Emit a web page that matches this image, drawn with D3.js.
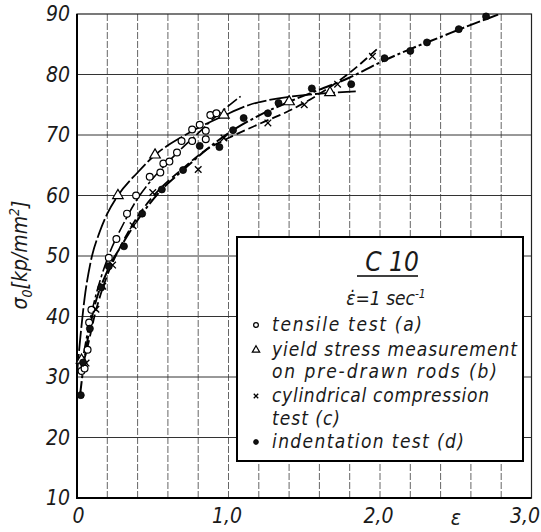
<!DOCTYPE html>
<html>
<head>
<meta charset="utf-8">
<script src="https://cdn.jsdelivr.net/npm/d3@7"></script>
<style>
  body { margin: 0; background: #fff; }
  svg text {
    font-family: "Liberation Sans Narrow", "DejaVu Sans Condensed", "Liberation Sans", sans-serif;
    font-style: italic;
    fill: #1a1a1a;
  }
</style>
</head>
<body>
<div id="chart"></div>
<script>
// Measured points, [strain, flow stress kp/mm2]
const tensileA = [[0.03,31.0],[0.05,31.4],[0.07,34.5],[0.08,39.0],[0.095,41.1],[0.21,49.7],[0.26,52.8],
  [0.33,57.0],[0.39,60.0],[0.48,63.1],[0.55,63.8],[0.57,65.3],[0.61,65.6],[0.66,67.1],[0.69,69.0],
  [0.76,69.0],[0.76,70.9],[0.81,71.7],[0.85,70.7],[0.85,69.3],[0.88,73.3],[0.92,73.6]];
const yieldB = [[0.03,32.8],[0.27,60.0],[0.515,66.7],[0.97,73.3],[1.40,75.5],[1.67,77.0]];
const compressionC = [[0.06,32.3],[0.125,41.2],[0.17,45.0],[0.235,48.5],[0.37,55.0],[0.50,60.5],
  [0.80,64.3],[0.97,69.5],[1.26,72.0],[1.50,75.0],[1.72,78.4],[1.95,83.0]];
const indentationD = [[0.025,27.0],[0.04,32.4],[0.085,38.0],[0.16,44.8],[0.21,48.3],[0.31,51.6],
  [0.43,57.0],[0.56,61.0],[0.70,64.2],[0.81,68.2],[0.94,68.0],[1.03,70.8],[1.10,72.8],[1.26,73.6],
  [1.33,75.3],[1.55,77.7],[1.81,78.4],[2.03,82.7],[2.20,83.9],[2.31,85.3],[2.52,87.5],[2.70,89.6]];

// Fitted curves, points
const fitA = [[0.02,30.5],[0.1,41],[0.2,49.5],[0.3,55],[0.4,59.5],[0.5,62.8],[0.6,65.5],[0.7,68],
  [0.8,70.3],[0.9,72.7],[1.0,74.8],[1.08,76.4]];
const fitB = [[0.0,30.5],[0.02,36],[0.05,43],[0.09,49],[0.15,54],[0.2,57],[0.27,60],[0.4,63.8],
  [0.515,66.7],[0.7,69.8],[0.97,73.2],[1.14,75.0],[1.27,75.8],[1.5,76.6],[1.69,77.0],[1.84,77.2]];
const fitC = [[0.02,30.5],[0.06,34],[0.125,41],[0.2,46.8],[0.3,52.2],[0.4,56.5],[0.5,59.8],[0.7,64.5],
  [0.85,67.5],[1.0,69.5],[1.2,71.8],[1.4,74.0],[1.6,76.8],[1.8,80.3],[1.98,84.2]];
const fitD = [[0.02,27],[0.05,33],[0.1,40],[0.2,47.5],[0.3,52],[0.43,57],[0.56,61],[0.7,64.2],
  [0.85,67.5],[1.0,70.3],[1.2,73.2],[1.4,75.5],[1.6,77.5],[1.8,79.5],[2.0,82],[2.2,84.2],[2.4,86.2],
  [2.6,88.2],[2.78,89.9]];

const xTicks = [0, 1, 2, 3];
const yTicks = [10, 20, 30, 40, 50, 60, 70, 80, 90];
const xGrid = [0.2, 0.4, 0.6, 0.8, 1.0, 1.2, 1.4, 1.6, 1.8, 2.0, 2.2, 2.4, 2.6, 2.8];
const yGrid = [20, 30, 40, 50, 60, 70, 80];

const legendTitle = 'C 10';
const legendRows = [
  {text: 'tensile test (a)', marker: 'circle'},
  {text: 'yield stress measurement', marker: 'triangle'},
  {text: 'on pre-drawn rods (b)', marker: null},
  {text: 'cylindrical compression', marker: 'cross'},
  {text: 'test (c)', marker: null},
  {text: 'indentation test (d)', marker: 'dot'}
];
const legendWidths = [150, 245, 225, 217, 68, 192];

const width = 541, height = 532;

let svg = d3.select('#chart')
  .append('svg')
    .attr('width', width)
    .attr('height', height);

let x = d3.scaleLinear().domain([0, 3]).range([77, 531.5]);
let y = d3.scaleLinear().domain([10, 90]).range([498, 14]);

svg.append('defs').append('clipPath')
  .attr('id', 'plot-clip')
  .append('rect')
    .attr('x', x(0)).attr('y', y(90))
    .attr('width', x(3) - x(0)).attr('height', y(10) - y(90));

// Grid
svg.append('g')
  .selectAll('line')
  .data(xGrid)
  .enter().append('line')
    .attr('x1', d => x(d)).attr('x2', d => x(d))
    .attr('y1', y(10)).attr('y2', y(90))
    .attr('stroke', '#555')
    .attr('stroke-width', 0.9)
    .attr('stroke-dasharray', '7,2');
svg.append('g')
  .selectAll('line')
  .data(yGrid)
  .enter().append('line')
    .attr('x1', x(0)).attr('x2', x(3))
    .attr('y1', d => y(d)).attr('y2', d => y(d))
    .attr('stroke', '#333')
    .attr('stroke-width', 1);

// Frame
svg.append('rect')
  .attr('x', x(0)).attr('y', y(90))
  .attr('width', x(3) - x(0)).attr('height', y(10) - y(90))
  .attr('fill', 'none')
  .attr('stroke', '#222')
  .attr('stroke-width', 1.2);
svg.append('path')
  .attr('d', 'M' + x(0) + ',' + y(90) + 'V' + y(10) + 'H' + x(3))
  .attr('fill', 'none')
  .attr('stroke', '#000')
  .attr('stroke-width', 2);

// Axes (labels only)
let xAxis = svg.append('g')
  .attr('transform', 'translate(0,' + y(10) + ')')
  .call(d3.axisBottom(x)
    .tickValues(xTicks)
    .tickSize(0)
    .tickPadding(10)
    .tickFormat(d => d === 0 ? '0' : d.toFixed(1).replace('.', ',')));
xAxis.select('.domain').remove();
xAxis.selectAll('text')
  .style('font-size', '21px')
  .attr('text-anchor', d => d === 3 ? 'end' : 'middle')
  .attr('dx', d => d === 3 ? '8px' : d === 0 ? '1px' : '-2px');

let yAxis = svg.append('g')
  .attr('transform', 'translate(' + x(0) + ',0)')
  .call(d3.axisLeft(y)
    .tickValues(yTicks)
    .tickSize(0)
    .tickPadding(7));
yAxis.select('.domain').remove();
yAxis.selectAll('text').style('font-size', '21px');

svg.append('text')
  .attr('x', x(2.5))
  .attr('y', 525)
  .attr('text-anchor', 'middle')
  .style('font-size', '21px')
  .text('ε');

// Y title
let yTitle = svg.append('text')
  .attr('transform', 'translate(27,255) rotate(-90)')
  .attr('text-anchor', 'middle')
  .style('font-size', '21px');
yTitle.append('tspan').text('σ');
yTitle.append('tspan').attr('dy', 5).style('font-size', '14px').text('0');
yTitle.append('tspan').attr('dy', -5).text('[kp/mm');
yTitle.append('tspan').attr('dy', -8).style('font-size', '14px').text('2');
yTitle.append('tspan').attr('dy', 8).text(']');

// Fitted curves
let curveLine = d3.line()
  .x(d => x(d[0]))
  .y(d => y(d[1]))
  .curve(d3.curveMonotoneX);

let curves = svg.append('g').attr('clip-path', 'url(#plot-clip)');
[
  {data: fitA, dash: '12,3,3,3', w: 1.6},
  {data: fitB, dash: '20,3', w: 1.8},
  {data: fitC, dash: '9,4', w: 1.8},
  {data: fitD, dash: '14,3,3,3', w: 2}
].forEach(c => {
  curves.append('path')
    .datum(c.data)
    .attr('d', curveLine)
    .attr('fill', 'none')
    .attr('stroke', '#000')
    .attr('stroke-width', c.w)
    .attr('stroke-dasharray', c.dash);
});

// Marker drawing
function drawMarker(g, type, cx, cy, s) {
  if (type === 'circle') {
    g.append('circle').attr('cx', cx).attr('cy', cy).attr('r', 3.4 * s)
      .attr('fill', '#fff').attr('stroke', '#000').attr('stroke-width', 1.2);
  } else if (type === 'dot') {
    g.append('circle').attr('cx', cx).attr('cy', cy).attr('r', 3.5 * s)
      .attr('fill', '#111').attr('stroke', '#000').attr('stroke-width', 0.8);
  } else if (type === 'triangle') {
    g.append('path')
      .attr('d', d3.symbol().type(d3.symbolTriangle).size(48 * s * s))
      .attr('transform', 'translate(' + cx + ',' + cy + ')')
      .attr('fill', '#fff').attr('stroke', '#000').attr('stroke-width', 1.2);
  } else if (type === 'cross') {
    g.append('path')
      .attr('d', d3.symbol().type(d3.symbolTimes).size(30 * s * s))
      .attr('transform', 'translate(' + cx + ',' + cy + ')')
      .attr('fill', 'none').attr('stroke', '#000').attr('stroke-width', 1.3);
  }
}

let marks = svg.append('g');
[
  {data: tensileA, type: 'circle'},
  {data: yieldB, type: 'triangle'},
  {data: compressionC, type: 'cross'},
  {data: indentationD, type: 'dot'}
].forEach(s => {
  s.data.forEach(d => drawMarker(marks, s.type, x(d[0]), y(d[1]), 1));
});

// Legend
let legend = svg.append('g');
legend.append('rect')
  .attr('x', 237).attr('y', 237)
  .attr('width', 286).attr('height', 224)
  .attr('fill', '#fff')
  .attr('stroke', '#000')
  .attr('stroke-width', 2);

legend.append('text')
  .attr('x', 392).attr('y', 271)
  .attr('text-anchor', 'middle')
  .style('font-size', '26px')
  .text(legendTitle);
legend.append('line')
  .attr('x1', 357).attr('x2', 418)
  .attr('y1', 276).attr('y2', 276)
  .attr('stroke', '#000').attr('stroke-width', 1.6);

let rate = legend.append('text')
  .attr('x', 386).attr('y', 305)
  .attr('text-anchor', 'middle')
  .style('font-size', '19px');
rate.append('tspan').text('ε\u0307=1 sec');
rate.append('tspan').attr('dy', -7).style('font-size', '12px').text('-1');

const rowBaselines = [331, 356, 378, 402, 425, 448];
legendRows.forEach((r, i) => {
  legend.append('text')
    .attr('x', 272).attr('y', rowBaselines[i])
    .attr('textLength', legendWidths[i])
    .attr('lengthAdjust', 'spacing')
    .style('font-size', '19px')
    .text(r.text);
  if (r.marker) drawMarker(legend, r.marker, 256, rowBaselines[i] - 6, 0.7);
});
</script>
</body>
</html>
